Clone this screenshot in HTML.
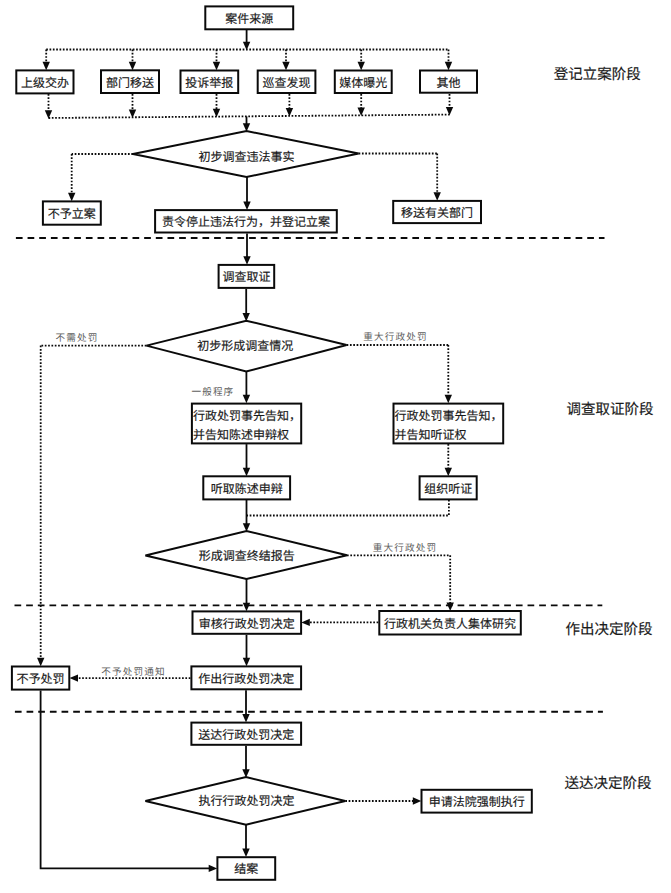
<!DOCTYPE html>
<html lang="zh-CN"><head><meta charset="utf-8"><title>flow</title>
<style>
html,body{margin:0;padding:0;background:#fff;}
body{width:671px;height:893px;overflow:hidden;}
svg{display:block;}
text{text-rendering:geometricPrecision;}
.t{font-family:"Liberation Sans",sans-serif;font-size:12px;fill:#1a1a1a;stroke:#1a1a1a;stroke-width:0.16px;}
.s{font-family:"Liberation Serif",serif;font-size:9.6px;fill:#606060;letter-spacing:1.15px;font-weight:300;}
.g{font-family:"Liberation Sans",sans-serif;font-size:14.5px;fill:#1a1a1a;stroke:#1a1a1a;stroke-width:0.16px;}
</style></head>
<body>
<svg width="671" height="893" viewBox="0 0 671 893">
<rect width="671" height="893" fill="#fff"/>
<path d="M246.60,30.00 L246.60,43.50" fill="none" stroke="#0a0a0a" stroke-width="1.8"/>
<polygon points="246.60,50.30 242.90,41.80 250.30,41.80" fill="#0a0a0a"/>
<path d="M46.20,49.50 L449.00,49.50" fill="none" stroke="#0a0a0a" stroke-width="1.8" stroke-dasharray="1.7 1.63"/>
<path d="M46.20,49.50 L46.20,63.50" fill="none" stroke="#0a0a0a" stroke-width="1.8" stroke-dasharray="1.7 1.63"/>
<polygon points="46.20,70.30 42.50,61.80 49.90,61.80" fill="#0a0a0a"/>
<path d="M132.50,49.50 L132.50,63.50" fill="none" stroke="#0a0a0a" stroke-width="1.8" stroke-dasharray="1.7 1.63"/>
<polygon points="132.50,70.30 128.80,61.80 136.20,61.80" fill="#0a0a0a"/>
<path d="M216.50,49.50 L216.50,63.50" fill="none" stroke="#0a0a0a" stroke-width="1.8" stroke-dasharray="1.7 1.63"/>
<polygon points="216.50,70.30 212.80,61.80 220.20,61.80" fill="#0a0a0a"/>
<path d="M286.00,49.50 L286.00,63.50" fill="none" stroke="#0a0a0a" stroke-width="1.8" stroke-dasharray="1.7 1.63"/>
<polygon points="286.00,70.30 282.30,61.80 289.70,61.80" fill="#0a0a0a"/>
<path d="M361.20,49.50 L361.20,63.50" fill="none" stroke="#0a0a0a" stroke-width="1.8" stroke-dasharray="1.7 1.63"/>
<polygon points="361.20,70.30 357.50,61.80 364.90,61.80" fill="#0a0a0a"/>
<path d="M448.50,49.50 L448.50,63.50" fill="none" stroke="#0a0a0a" stroke-width="1.8" stroke-dasharray="1.7 1.63"/>
<polygon points="448.50,70.30 444.80,61.80 452.20,61.80" fill="#0a0a0a"/>
<path d="M48.50,94.00 L48.50,112.00" fill="none" stroke="#0a0a0a" stroke-width="1.8" stroke-dasharray="1.7 1.63"/>
<polygon points="48.50,118.80 44.80,110.30 52.20,110.30" fill="#0a0a0a"/>
<path d="M132.50,94.00 L132.50,111.10" fill="none" stroke="#0a0a0a" stroke-width="1.8" stroke-dasharray="1.7 1.63"/>
<polygon points="132.50,117.90 128.80,109.40 136.20,109.40" fill="#0a0a0a"/>
<path d="M216.50,94.00 L216.50,110.40" fill="none" stroke="#0a0a0a" stroke-width="1.8" stroke-dasharray="1.7 1.63"/>
<polygon points="216.50,117.20 212.80,108.70 220.20,108.70" fill="#0a0a0a"/>
<path d="M289.40,94.00 L289.40,109.80" fill="none" stroke="#0a0a0a" stroke-width="1.8" stroke-dasharray="1.7 1.63"/>
<polygon points="289.40,116.60 285.70,108.10 293.10,108.10" fill="#0a0a0a"/>
<path d="M361.20,94.00 L361.20,109.20" fill="none" stroke="#0a0a0a" stroke-width="1.8" stroke-dasharray="1.7 1.63"/>
<polygon points="361.20,116.00 357.50,107.50 364.90,107.50" fill="#0a0a0a"/>
<path d="M449.50,94.00 L449.50,108.60" fill="none" stroke="#0a0a0a" stroke-width="1.8" stroke-dasharray="1.7 1.63"/>
<polygon points="449.50,115.40 445.80,106.90 453.20,106.90" fill="#0a0a0a"/>
<path d="M48.50,118.00 L449.50,114.60" fill="none" stroke="#0a0a0a" stroke-width="1.8" stroke-dasharray="1.7 1.63"/>
<rect x="205.30" y="6.40" width="87.90" height="22.90" fill="#fff" stroke="#0a0a0a" stroke-width="2.0"/>
<text x="249.25" y="22.89" text-anchor="middle" class="t">案件来源</text>
<rect x="16.30" y="70.40" width="57.20" height="23.00" fill="#fff" stroke="#0a0a0a" stroke-width="2.0"/>
<text x="44.90" y="86.94" text-anchor="middle" class="t">上级交办</text>
<rect x="101.00" y="70.30" width="58.00" height="22.70" fill="#fff" stroke="#0a0a0a" stroke-width="2.0"/>
<text x="130.00" y="86.69" text-anchor="middle" class="t">部门移送</text>
<rect x="180.50" y="70.50" width="57.70" height="22.50" fill="#fff" stroke="#0a0a0a" stroke-width="2.0"/>
<text x="209.35" y="86.79" text-anchor="middle" class="t">投诉举报</text>
<rect x="257.70" y="70.50" width="57.70" height="22.50" fill="#fff" stroke="#0a0a0a" stroke-width="2.0"/>
<text x="286.55" y="86.79" text-anchor="middle" class="t">巡查发现</text>
<rect x="334.80" y="70.50" width="56.90" height="22.50" fill="#fff" stroke="#0a0a0a" stroke-width="2.0"/>
<text x="363.25" y="86.79" text-anchor="middle" class="t">媒体曝光</text>
<rect x="420.00" y="70.50" width="57.00" height="22.20" fill="#fff" stroke="#0a0a0a" stroke-width="2.0"/>
<text x="448.50" y="86.64" text-anchor="middle" class="t">其他</text>
<path d="M246.50,116.40 L246.50,125.00" fill="none" stroke="#0a0a0a" stroke-width="1.8"/>
<polygon points="246.50,131.80 242.80,123.30 250.20,123.30" fill="#0a0a0a"/>
<path d="M133.00,154.00 L71.70,154.00" fill="none" stroke="#0a0a0a" stroke-width="1.8" stroke-dasharray="1.7 1.63"/>
<path d="M71.70,154.00 L71.70,194.40" fill="none" stroke="#0a0a0a" stroke-width="1.8" stroke-dasharray="1.7 1.63"/>
<polygon points="71.70,201.20 68.00,192.70 75.40,192.70" fill="#0a0a0a"/>
<path d="M358.60,153.50 L437.20,153.50" fill="none" stroke="#0a0a0a" stroke-width="1.8" stroke-dasharray="1.7 1.63"/>
<path d="M437.20,153.50 L437.20,193.90" fill="none" stroke="#0a0a0a" stroke-width="1.8" stroke-dasharray="1.7 1.63"/>
<polygon points="437.20,200.70 433.50,192.20 440.90,192.20" fill="#0a0a0a"/>
<polygon points="133,154 246.5,131 358.6,153.5 246.5,177" fill="#fff" stroke="#0a0a0a" stroke-width="2.0" stroke-linejoin="miter"/>
<text x="246.50" y="160.90" text-anchor="middle" class="t">初步调查违法事实</text>
<rect x="42.90" y="201.40" width="57.90" height="23.30" fill="#fff" stroke="#0a0a0a" stroke-width="2.0"/>
<text x="71.85" y="218.09" text-anchor="middle" class="t">不予立案</text>
<rect x="393.20" y="200.90" width="87.80" height="22.20" fill="#fff" stroke="#0a0a0a" stroke-width="2.0"/>
<text x="437.10" y="217.04" text-anchor="middle" class="t">移送有关部门</text>
<path d="M247.00,177.00 L247.00,203.10" fill="none" stroke="#0a0a0a" stroke-width="1.8"/>
<polygon points="247.00,209.90 243.30,201.40 250.70,201.40" fill="#0a0a0a"/>
<rect x="155.10" y="210.10" width="181.70" height="22.40" fill="#fff" stroke="#0a0a0a" stroke-width="2.0"/>
<text x="245.95" y="226.34" text-anchor="middle" class="t">责令停止违法行为，并登记立案</text>
<line x1="15.9" y1="238" x2="604.5" y2="238" stroke="#0a0a0a" stroke-width="1.9" stroke-dasharray="6.7 4.96"/>
<path d="M247.00,233.50 L247.00,257.90" fill="none" stroke="#0a0a0a" stroke-width="1.8"/>
<polygon points="247.00,264.70 243.30,256.20 250.70,256.20" fill="#0a0a0a"/>
<rect x="218.60" y="264.90" width="55.60" height="23.00" fill="#fff" stroke="#0a0a0a" stroke-width="2.0"/>
<text x="246.40" y="281.44" text-anchor="middle" class="t">调查取证</text>
<path d="M246.20,288.90 L246.20,314.70" fill="none" stroke="#0a0a0a" stroke-width="1.8"/>
<polygon points="246.20,321.50 242.50,313.00 249.90,313.00" fill="#0a0a0a"/>
<path d="M146.40,345.60 L40.70,345.60" fill="none" stroke="#0a0a0a" stroke-width="1.8" stroke-dasharray="1.7 1.63"/>
<path d="M40.70,345.60 L40.70,659.50" fill="none" stroke="#0a0a0a" stroke-width="1.8" stroke-dasharray="1.7 1.63"/>
<polygon points="40.70,666.30 37.00,657.80 44.40,657.80" fill="#0a0a0a"/>
<path d="M346.60,345.00 L448.30,345.00" fill="none" stroke="#0a0a0a" stroke-width="1.8" stroke-dasharray="1.7 1.63"/>
<path d="M448.30,345.00 L448.30,396.40" fill="none" stroke="#0a0a0a" stroke-width="1.8" stroke-dasharray="1.7 1.63"/>
<polygon points="448.30,403.20 444.60,394.70 452.00,394.70" fill="#0a0a0a"/>
<polygon points="146.4,345.6 246.2,320.7 346.6,345 246.2,371.5" fill="#fff" stroke="#0a0a0a" stroke-width="2.0" stroke-linejoin="miter"/>
<text x="245.20" y="349.80" text-anchor="middle" class="t">初步形成调查情况</text>
<path d="M246.40,371.50 L246.40,396.40" fill="none" stroke="#0a0a0a" stroke-width="1.8"/>
<polygon points="246.40,403.20 242.70,394.70 250.10,394.70" fill="#0a0a0a"/>
<rect x="191.90" y="403.60" width="109.30" height="39.80" fill="#fff" stroke="#0a0a0a" stroke-width="2.0"/>
<text x="192.90" y="419.50" class="t">行政处罚事先告知，</text>
<text x="192.90" y="438.50" class="t">并告知陈述申辩权</text>
<rect x="393.50" y="403.60" width="109.70" height="39.80" fill="#fff" stroke="#0a0a0a" stroke-width="2.0"/>
<text x="394.60" y="419.50" class="t">行政处罚事先告知，</text>
<text x="394.60" y="438.50" class="t">并告知听证权</text>
<path d="M246.50,444.10 L246.50,469.40" fill="none" stroke="#0a0a0a" stroke-width="1.8"/>
<polygon points="246.50,476.20 242.80,467.70 250.20,467.70" fill="#0a0a0a"/>
<path d="M448.30,444.10 L448.30,469.40" fill="none" stroke="#0a0a0a" stroke-width="1.8" stroke-dasharray="1.7 1.63"/>
<polygon points="448.30,476.20 444.60,467.70 452.00,467.70" fill="#0a0a0a"/>
<rect x="203.30" y="476.30" width="86.80" height="23.10" fill="#fff" stroke="#0a0a0a" stroke-width="2.0"/>
<text x="246.70" y="492.89" text-anchor="middle" class="t">听取陈述申辩</text>
<rect x="419.60" y="476.30" width="57.10" height="23.10" fill="#fff" stroke="#0a0a0a" stroke-width="2.0"/>
<text x="448.15" y="492.89" text-anchor="middle" class="t">组织听证</text>
<path d="M448.90,499.90 L448.90,515.50 L246.50,515.50" fill="none" stroke="#0a0a0a" stroke-width="1.8" stroke-dasharray="1.7 1.63"/>
<path d="M246.50,499.90 L246.50,525.00" fill="none" stroke="#0a0a0a" stroke-width="1.8"/>
<polygon points="246.50,531.80 242.80,523.30 250.20,523.30" fill="#0a0a0a"/>
<path d="M347.00,555.30 L450.20,555.30" fill="none" stroke="#0a0a0a" stroke-width="1.8" stroke-dasharray="1.7 1.63"/>
<path d="M450.20,555.30 L450.20,604.10" fill="none" stroke="#0a0a0a" stroke-width="1.8" stroke-dasharray="1.7 1.63"/>
<polygon points="450.20,610.90 446.50,602.40 453.90,602.40" fill="#0a0a0a"/>
<polygon points="145.4,555.5 246.5,531 347,555.3 246.5,579" fill="#fff" stroke="#0a0a0a" stroke-width="2.0" stroke-linejoin="miter"/>
<text x="246.80" y="559.60" text-anchor="middle" class="t">形成调查终结报告</text>
<line x1="14.5" y1="605.4" x2="602.3" y2="605.4" stroke="#0a0a0a" stroke-width="1.9" stroke-dasharray="6.7 4.96"/>
<path d="M246.50,579.00 L246.50,604.50" fill="none" stroke="#0a0a0a" stroke-width="1.8"/>
<polygon points="246.50,611.30 242.80,602.80 250.20,602.80" fill="#0a0a0a"/>
<rect x="192.50" y="611.40" width="108.60" height="22.40" fill="#fff" stroke="#0a0a0a" stroke-width="2.0"/>
<text x="246.80" y="627.64" text-anchor="middle" class="t">审核行政处罚决定</text>
<rect x="379.30" y="611.00" width="141.50" height="23.50" fill="#fff" stroke="#0a0a0a" stroke-width="2.0"/>
<text x="450.05" y="627.79" text-anchor="middle" class="t">行政机关负责人集体研究</text>
<path d="M378.30,622.40 L308.10,622.40" fill="none" stroke="#0a0a0a" stroke-width="1.8" stroke-dasharray="1.7 1.63"/>
<polygon points="301.30,622.40 309.80,618.70 309.80,626.10" fill="#0a0a0a"/>
<path d="M246.50,634.90 L246.50,659.40" fill="none" stroke="#0a0a0a" stroke-width="1.8"/>
<polygon points="246.50,666.20 242.80,657.70 250.20,657.70" fill="#0a0a0a"/>
<rect x="191.40" y="666.40" width="109.70" height="22.90" fill="#fff" stroke="#0a0a0a" stroke-width="2.0"/>
<text x="246.25" y="682.89" text-anchor="middle" class="t">作出行政处罚决定</text>
<path d="M190.40,678.10 L76.30,678.10" fill="none" stroke="#0a0a0a" stroke-width="1.8" stroke-dasharray="1.7 1.63"/>
<polygon points="69.50,678.10 78.00,674.40 78.00,681.80" fill="#0a0a0a"/>
<rect x="11.90" y="666.50" width="57.40" height="23.10" fill="#fff" stroke="#0a0a0a" stroke-width="2.0"/>
<text x="40.60" y="682.79" text-anchor="middle" class="t">不予处罚</text>
<line x1="14.9" y1="711.7" x2="602.9" y2="711.7" stroke="#0a0a0a" stroke-width="1.9" stroke-dasharray="6.7 4.96"/>
<path d="M246.00,690.30 L246.00,715.60" fill="none" stroke="#0a0a0a" stroke-width="1.8"/>
<polygon points="246.00,722.40 242.30,713.90 249.70,713.90" fill="#0a0a0a"/>
<rect x="191.40" y="722.60" width="109.70" height="22.20" fill="#fff" stroke="#0a0a0a" stroke-width="2.0"/>
<text x="246.25" y="738.74" text-anchor="middle" class="t">送达行政处罚决定</text>
<path d="M246.00,745.80 L246.00,771.00" fill="none" stroke="#0a0a0a" stroke-width="1.8"/>
<polygon points="246.00,777.80 242.30,769.30 249.70,769.30" fill="#0a0a0a"/>
<path d="M345.30,801.00 L414.50,801.00" fill="none" stroke="#0a0a0a" stroke-width="1.8" stroke-dasharray="1.7 1.63"/>
<polygon points="421.30,801.00 412.80,797.30 412.80,804.70" fill="#0a0a0a"/>
<polygon points="145.4,801 246,777 345.3,801 246,824.7" fill="#fff" stroke="#0a0a0a" stroke-width="2.0" stroke-linejoin="miter"/>
<text x="246.60" y="805.40" text-anchor="middle" class="t">执行行政处罚决定</text>
<rect x="421.50" y="789.80" width="110.30" height="22.80" fill="#fff" stroke="#0a0a0a" stroke-width="2.0"/>
<text x="476.65" y="806.24" text-anchor="middle" class="t">申请法院强制执行</text>
<path d="M246.00,824.70 L246.00,850.20" fill="none" stroke="#0a0a0a" stroke-width="1.8"/>
<polygon points="246.00,857.00 242.30,848.50 249.70,848.50" fill="#0a0a0a"/>
<path d="M40.60,690.60 L40.60,868.40 L210.00,868.40" fill="none" stroke="#0a0a0a" stroke-width="1.8"/>
<polygon points="217.20,868.40 208.70,864.70 208.70,872.10" fill="#0a0a0a"/>
<rect x="217.40" y="857.20" width="57.80" height="22.60" fill="#fff" stroke="#0a0a0a" stroke-width="2.0"/>
<text x="246.30" y="873.04" text-anchor="middle" class="t">结案</text>
<text x="55.60" y="341.00" class="s">不需处罚</text>
<text x="363.20" y="339.70" class="s">重大行政处罚</text>
<text x="191.40" y="395.40" class="s">一般程序</text>
<text x="372.80" y="550.90" class="s">重大行政处罚</text>
<text x="101.20" y="675.30" class="s">不予处罚通知</text>
<text x="553.70" y="79.40" class="g">登记立案阶段</text>
<text x="566.40" y="413.80" class="g">调查取证阶段</text>
<text x="565.40" y="633.80" class="g">作出决定阶段</text>
<text x="564.40" y="787.70" class="g">送达决定阶段</text>
</svg>
</body></html>
